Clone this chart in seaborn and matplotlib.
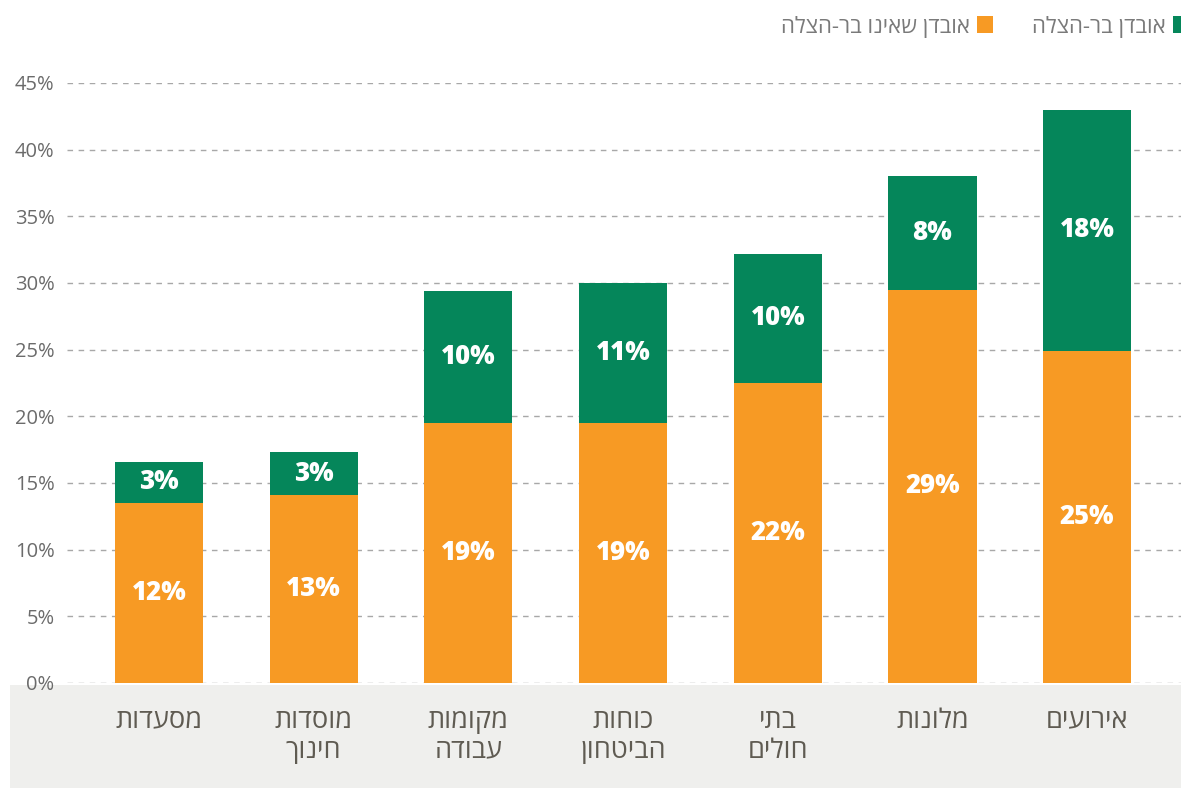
import numpy as np
import pandas as pd
import matplotlib
matplotlib.use('Agg')
import matplotlib.pyplot as plt
from matplotlib.patches import Rectangle
import matplotlib.transforms as mtransforms
import seaborn as sns

#DATA
####################################################################################################

categories = ['מסעדות', 'מוסדות\nחינוך', 'מקומות\nעבודה', 'כוחות\nהביטחון', 'בתי\nחולים', 'מלונות', 'אירועים']
orange_vals = [13.5, 14.1, 19.5, 19.5, 22.5, 29.5, 24.9]
green_vals = [3.1, 3.2, 9.9, 10.5, 9.7, 8.5, 18.1]
orange_labels = ['12%', '13%', '19%', '19%', '22%', '29%', '25%']
green_labels = ['3%', '3%', '10%', '11%', '10%', '8%', '18%']
legend_names = ['אובדן שאינו בר-הצלה', 'אובדן בר-הצלה']
y_ticks = [0, 5, 10, 15, 20, 25, 30, 35, 40, 45]

GREEN = '#05865a'
ORANGE = '#f79a24'

#Hebrew is right-to-left, matplotlib draws left-to-right -> flip each line
def rtl(s):
    return '\n'.join(line[::-1] for line in s.split('\n'))

df = pd.DataFrame({'cat': categories, 'orange': orange_vals, 'green': green_vals})
df['total'] = df['orange'] + df['green']

#PLOT
####################################################################################################

sns.set_theme(style='white')
plt.rcParams['font.family'] = ['Open Sans', 'DejaVu Sans']

W, H = 1181, 788
fig = plt.figure(figsize=(W / 100, H / 100), dpi=100)
fig.patch.set_facecolor('white')

ax = fig.add_axes([67 / W, (H - 683) / H, (W - 67) / W, (683 - 83) / H])
ax.patch.set_alpha(0)

#grey band under the bars (behind the tick labels)
ax.add_patch(Rectangle((10 / W, 0), 1 - 10 / W, (H - 685) / H, transform=fig.transFigure,
                       facecolor='#efefed', edgecolor='none', zorder=0, clip_on=False))

sns.barplot(data=df, x='cat', y='total', color=GREEN, width=0.57, saturation=1, linewidth=0, ax=ax, zorder=2)
sns.barplot(data=df, x='cat', y='orange', color=ORANGE, width=0.57, saturation=1, linewidth=0, ax=ax, zorder=3)

for i, row in df.iterrows():
    ax.text(i, row['orange'] / 2, orange_labels[i], ha='center', va='center', color='white',
            fontsize=18.5, fontweight=800, zorder=5)
    ax.text(i, row['orange'] + row['green'] / 2, green_labels[i], ha='center', va='center',
            color='white', fontsize=18.5, fontweight=800, zorder=5)

ax.set_xlim(-0.595, 6.607)
ax.set_ylim(0, 45)
ax.set_yticks(y_ticks)
ax.set_yticklabels([f'{t}%' for t in y_ticks], fontsize=14.5, color='#6b6b6b')
offset = mtransforms.ScaledTranslation(0, 3 / 72, fig.dpi_scale_trans)
for lbl in ax.get_yticklabels():
    lbl.set_transform(lbl.get_transform() + offset)
ax.set_xticks(range(len(categories)))
ax.set_xticklabels([rtl(c) for c in categories], fontsize=19.5, color='#5f5b52', linespacing=1.1)
ax.tick_params(axis='y', length=0, pad=9)
ax.tick_params(axis='x', length=0, pad=17)
ax.set_xlabel('')
ax.set_ylabel('')
for s in ax.spines.values():
    s.set_visible(False)

ax.set_axisbelow(True)
ax.yaxis.grid(True, color='#a8a8a8', linestyle=(0, (4, 4)), linewidth=1)
ax.xaxis.grid(False)

#legend drawn by hand: square on the right of the text (rtl)
legend_items = [(ORANGE, legend_names[0], 977, 970), (GREEN, legend_names[1], 1173, 1166)]
for col, name, sq_x, txt_x in legend_items:
    fig.patches.append(Rectangle((sq_x / W, 1 - 33 / H), 16 / W, 17 / H, transform=fig.transFigure,
                                 facecolor=col, edgecolor='none'))
    fig.text(txt_x / W, 1 - 33 / H, rtl(name), ha='right', va='baseline', fontsize=16, color='#7a7a7a')

plt.savefig('out.png', dpi=100)
